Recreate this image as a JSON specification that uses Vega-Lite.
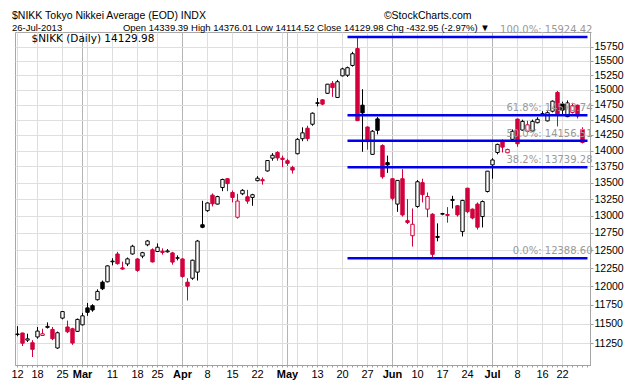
{
  "$schema": "https://vega.github.io/schema/vega-lite/v6.json",
  "width": 575,
  "height": 333,
  "autosize": {"type": "none"},
  "padding": {"left": 15, "top": 32, "right": 50, "bottom": 20},
  "background": "white",
  "config": {
    "font": "Liberation Sans",
    "view": {"stroke": "#a8a8a8"}
  },
  "title": {
    "text": "$NIKK Tokyo Nikkei Average (EOD) INDX\u00a0\u00a0\u00a0\u00a0\u00a0\u00a0\u00a0\u00a0\u00a0\u00a0\u00a0\u00a0\u00a0\u00a0\u00a0\u00a0\u00a0\u00a0\u00a0\u00a0\u00a0\u00a0\u00a0\u00a0\u00a0\u00a0\u00a0\u00a0\u00a0\u00a0\u00a0\u00a0\u00a0\u00a0\u00a0\u00a0\u00a0\u00a0\u00a0\u00a0\u00a0\u00a0\u00a0\u00a0\u00a0\u00a0\u00a0\u00a0\u00a0\u00a0\u00a0\u00a0\u00a0\u00a0\u00a0\u00a0\u00a0\u00a0\u00a0\u00a0\u00a0©StockCharts.com",
    "subtitle": "26-Jul-2013 \u00a0\u00a0\u00a0\u00a0\u00a0\u00a0\u00a0\u00a0\u00a0\u00a0\u00a0\u00a0\u00a0\u00a0\u00a0\u00a0\u00a0\u00a0\u00a0\u00a0\u00a0\u00a0Open 14339.39 High 14376.01 Low 14114.52 Close 14129.98 Chg -432.95 (-2.97%) ▼",
    "anchor": "start",
    "frame": "group",
    "dx": -3,
    "offset": -7.5,
    "font": "Liberation Sans",
    "fontSize": 10.5,
    "fontWeight": "normal",
    "color": "#000000",
    "subtitleFont": "Liberation Sans",
    "subtitleFontSize": 9.5,
    "subtitleColor": "#000000",
    "subtitlePadding": 2
  },
  "datasets": {
    "px": [
      {"d":"2013-02-12","o":11362,"h":11470,"l":11340,"c":11369,"k":"up"},
      {"d":"2013-02-13","o":11382,"h":11385,"l":11215,"c":11251,"k":"dn"},
      {"d":"2013-02-14","o":11290,"h":11373,"l":11266,"c":11307,"k":"up"},
      {"d":"2013-02-15","o":11257,"h":11290,"l":11076,"c":11173,"k":"dn"},
      {"d":"2013-02-18","o":11331,"h":11460,"l":11309,"c":11407,"k":"up"},
      {"d":"2013-02-19","o":11350,"h":11437,"l":11345,"c":11372,"k":"dn"},
      {"d":"2013-02-20","o":11455,"h":11520,"l":11440,"c":11468,"k":"up"},
      {"d":"2013-02-21","o":11428,"h":11460,"l":11290,"c":11309,"k":"dn"},
      {"d":"2013-02-22","o":11190,"h":11400,"l":11180,"c":11385,"k":"up"},
      {"d":"2013-02-25","o":11576,"h":11670,"l":11560,"c":11662,"k":"up"},
      {"d":"2013-02-26","o":11460,"h":11543,"l":11380,"c":11398,"k":"dn"},
      {"d":"2013-02-27","o":11437,"h":11450,"l":11230,"c":11253,"k":"dn"},
      {"d":"2013-02-28","o":11403,"h":11570,"l":11395,"c":11559,"k":"up"},
      {"d":"2013-03-01","o":11488,"h":11645,"l":11480,"c":11606,"k":"up"},
      {"d":"2013-03-04","o":11711,"h":11777,"l":11606,"c":11652,"k":"up"},
      {"d":"2013-03-05","o":11740,"h":11760,"l":11660,"c":11683,"k":"up"},
      {"d":"2013-03-06","o":11820,"h":11960,"l":11810,"c":11932,"k":"up"},
      {"d":"2013-03-07","o":12058,"h":12080,"l":11950,"c":11968,"k":"up"},
      {"d":"2013-03-08","o":12063,"h":12290,"l":12055,"c":12283,"k":"up"},
      {"d":"2013-03-11","o":12340,"h":12390,"l":12290,"c":12349,"k":"up"},
      {"d":"2013-03-12","o":12450,"h":12480,"l":12300,"c":12314,"k":"dn"},
      {"d":"2013-03-13","o":12255,"h":12343,"l":12230,"c":12239,"k":"dn"},
      {"d":"2013-03-14","o":12310,"h":12400,"l":12280,"c":12381,"k":"up"},
      {"d":"2013-03-15","o":12450,"h":12580,"l":12440,"c":12560,"k":"up"},
      {"d":"2013-03-18","o":12380,"h":12390,"l":12200,"c":12220,"k":"dn"},
      {"d":"2013-03-19","o":12420,"h":12480,"l":12390,"c":12468,"k":"up"},
      {"d":"2013-03-21","o":12580,"h":12650,"l":12560,"c":12635,"k":"up"},
      {"d":"2013-03-22","o":12510,"h":12530,"l":12330,"c":12338,"k":"dn"},
      {"d":"2013-03-25","o":12485,"h":12600,"l":12480,"c":12546,"k":"up"},
      {"d":"2013-03-26","o":12490,"h":12530,"l":12440,"c":12472,"k":"dn"},
      {"d":"2013-03-27","o":12480,"h":12520,"l":12470,"c":12493,"k":"up"},
      {"d":"2013-03-28","o":12465,"h":12480,"l":12300,"c":12336,"k":"dn"},
      {"d":"2013-03-29","o":12390,"h":12430,"l":12360,"c":12397,"k":"up"},
      {"d":"2013-04-01","o":12380,"h":12390,"l":12120,"c":12135,"k":"dn"},
      {"d":"2013-04-02","o":12058,"h":12112,"l":11810,"c":12003,"k":"dn"},
      {"d":"2013-04-03","o":12112,"h":12370,"l":12090,"c":12362,"k":"up"},
      {"d":"2013-04-04","o":12196,"h":12650,"l":12080,"c":12634,"k":"up"},
      {"d":"2013-04-05","o":12870,"h":13225,"l":12820,"c":12833,"k":"up"},
      {"d":"2013-04-08","o":13077,"h":13200,"l":13060,"c":13192,"k":"up"},
      {"d":"2013-04-09","o":13310,"h":13336,"l":13140,"c":13180,"k":"dn"},
      {"d":"2013-04-10","o":13175,"h":13300,"l":13170,"c":13288,"k":"up"},
      {"d":"2013-04-11","o":13425,"h":13560,"l":13370,"c":13549,"k":"up"},
      {"d":"2013-04-12","o":13560,"h":13570,"l":13370,"c":13485,"k":"dn"},
      {"d":"2013-04-15","o":13350,"h":13380,"l":13200,"c":13275,"k":"dn"},
      {"d":"2013-04-16","o":12980,"h":13330,"l":12960,"c":13221,"k":"dn"},
      {"d":"2013-04-17","o":13330,"h":13400,"l":13310,"c":13382,"k":"up"},
      {"d":"2013-04-18","o":13285,"h":13390,"l":13180,"c":13220,"k":"dn"},
      {"d":"2013-04-19","o":13275,"h":13330,"l":13150,"c":13316,"k":"up"},
      {"d":"2013-04-22","o":13530,"h":13600,"l":13520,"c":13568,"k":"up"},
      {"d":"2013-04-23","o":13545,"h":13580,"l":13470,"c":13529,"k":"dn"},
      {"d":"2013-04-24","o":13680,"h":13850,"l":13670,"c":13843,"k":"up"},
      {"d":"2013-04-25","o":13880,"h":13960,"l":13840,"c":13926,"k":"up"},
      {"d":"2013-04-26","o":13970,"h":13990,"l":13840,"c":13884,"k":"dn"},
      {"d":"2013-04-30","o":13880,"h":13920,"l":13740,"c":13860,"k":"dn"},
      {"d":"2013-05-01","o":13840,"h":13870,"l":13760,"c":13799,"k":"dn"},
      {"d":"2013-05-02","o":13735,"h":13760,"l":13640,"c":13694,"k":"dn"},
      {"d":"2013-05-07","o":13950,"h":14200,"l":13940,"c":14180,"k":"up"},
      {"d":"2013-05-08","o":14190,"h":14375,"l":14150,"c":14285,"k":"up"},
      {"d":"2013-05-09","o":14360,"h":14400,"l":14150,"c":14191,"k":"dn"},
      {"d":"2013-05-10","o":14425,"h":14620,"l":14400,"c":14607,"k":"up"},
      {"d":"2013-05-13","o":14770,"h":14860,"l":14720,"c":14782,"k":"up"},
      {"d":"2013-05-14","o":14830,"h":14840,"l":14740,"c":14758,"k":"dn"},
      {"d":"2013-05-15","o":14940,"h":15100,"l":14930,"c":15096,"k":"up"},
      {"d":"2013-05-16","o":15110,"h":15150,"l":14880,"c":15037,"k":"dn"},
      {"d":"2013-05-17","o":14870,"h":15170,"l":14860,"c":15138,"k":"up"},
      {"d":"2013-05-20","o":15240,"h":15380,"l":15230,"c":15360,"k":"up"},
      {"d":"2013-05-21","o":15250,"h":15400,"l":15220,"c":15381,"k":"up"},
      {"d":"2013-05-22","o":15420,"h":15660,"l":15400,"c":15627,"k":"up"},
      {"d":"2013-05-23","o":15719,"h":15924.42,"l":14480,"c":14484,"k":"dn"},
      {"d":"2013-05-24","o":14740,"h":15010,"l":13981,"c":14612,"k":"up"},
      {"d":"2013-05-27","o":14380,"h":14390,"l":14015,"c":14143,"k":"dn"},
      {"d":"2013-05-28","o":13940,"h":14330,"l":13930,"c":14311,"k":"up"},
      {"d":"2013-05-29","o":14513,"h":14545,"l":14260,"c":14326,"k":"up"},
      {"d":"2013-05-30","o":14080,"h":14100,"l":13560,"c":13589,"k":"dn"},
      {"d":"2013-05-31","o":13810,"h":13920,"l":13650,"c":13775,"k":"up"},
      {"d":"2013-06-03","o":13560,"h":13570,"l":13230,"c":13262,"k":"dn"},
      {"d":"2013-06-04","o":13175,"h":13540,"l":13060,"c":13534,"k":"up"},
      {"d":"2013-06-05","o":13560,"h":13708,"l":12990,"c":13014,"k":"dn"},
      {"d":"2013-06-06","o":12930,"h":13250,"l":12880,"c":12904,"k":"dn"},
      {"d":"2013-06-07","o":12710,"h":13110,"l":12555,"c":12877,"k":"dn"},
      {"d":"2013-06-10","o":13140,"h":13540,"l":13120,"c":13514,"k":"up"},
      {"d":"2013-06-11","o":13500,"h":13560,"l":13200,"c":13317,"k":"dn"},
      {"d":"2013-06-12","o":13100,"h":13350,"l":12980,"c":13289,"k":"dn"},
      {"d":"2013-06-13","o":13025,"h":13040,"l":12388.6,"c":12445,"k":"dn"},
      {"d":"2013-06-14","o":12700,"h":12890,"l":12630,"c":12686,"k":"up"},
      {"d":"2013-06-17","o":13025,"h":13045,"l":13010,"c":13034,"k":"up"},
      {"d":"2013-06-18","o":13020,"h":13130,"l":12900,"c":13007,"k":"dn"},
      {"d":"2013-06-19","o":13230,"h":13300,"l":13110,"c":13245,"k":"up"},
      {"d":"2013-06-20","o":13150,"h":13160,"l":12990,"c":13015,"k":"dn"},
      {"d":"2013-06-21","o":12770,"h":13240,"l":12700,"c":13230,"k":"up"},
      {"d":"2013-06-24","o":13415,"h":13420,"l":13040,"c":13062,"k":"dn"},
      {"d":"2013-06-25","o":13100,"h":13110,"l":12950,"c":12969,"k":"dn"},
      {"d":"2013-06-26","o":13175,"h":13200,"l":12800,"c":12834,"k":"dn"},
      {"d":"2013-06-27","o":12990,"h":13230,"l":12830,"c":13213,"k":"up"},
      {"d":"2013-06-28","o":13365,"h":13680,"l":13350,"c":13677,"k":"up"},
      {"d":"2013-07-01","o":13775,"h":13880,"l":13560,"c":13852,"k":"up"},
      {"d":"2013-07-02","o":13970,"h":14110,"l":13940,"c":14099,"k":"up"},
      {"d":"2013-07-03","o":14140,"h":14180,"l":13970,"c":14055,"k":"dn"},
      {"d":"2013-07-04","o":13965,"h":14030,"l":13960,"c":14018,"k":"dn"},
      {"d":"2013-07-05","o":14180,"h":14340,"l":14150,"c":14310,"k":"up"},
      {"d":"2013-07-08","o":14510,"h":14520,"l":14060,"c":14109,"k":"dn"},
      {"d":"2013-07-09","o":14330,"h":14500,"l":14320,"c":14472,"k":"up"},
      {"d":"2013-07-10","o":14310,"h":14480,"l":14290,"c":14416,"k":"dn"},
      {"d":"2013-07-11","o":14315,"h":14500,"l":14300,"c":14472,"k":"up"},
      {"d":"2013-07-12","o":14450,"h":14540,"l":14440,"c":14506,"k":"up"},
      {"d":"2013-07-16","o":14590,"h":14640,"l":14560,"c":14599,"k":"up"},
      {"d":"2013-07-17","o":14480,"h":14640,"l":14470,"c":14615,"k":"up"},
      {"d":"2013-07-18","o":14640,"h":14820,"l":14620,"c":14808,"k":"up"},
      {"d":"2013-07-19","o":14955,"h":14980,"l":14390,"c":14589,"k":"dn"},
      {"d":"2013-07-22","o":14760,"h":14800,"l":14580,"c":14658,"k":"up"},
      {"d":"2013-07-23","o":14550,"h":14820,"l":14540,"c":14778,"k":"up"},
      {"d":"2013-07-24","o":14620,"h":14780,"l":14600,"c":14731,"k":"dn"},
      {"d":"2013-07-25","o":14740,"h":14750,"l":14520,"c":14562,"k":"dn"},
      {"d":"2013-07-26","o":14339.39,"h":14376.01,"l":14114.52,"c":14129.98,"k":"dn"}
    ],
    "fib": [
      {"v":15924.42,"t":"100.0%: 15924.42"},
      {"v":14573.74,"t":"61.8%: 14573.74"},
      {"v":14156.51,"t":"50.0%: 14156.51"},
      {"v":13739.28,"t":"38.2%: 13739.28"},
      {"v":12388.60,"t":"0.0%: 12388.60"}
    ]
  },
  "layer": [
    {
      "data": {"name": "px"},
      "mark": {"type": "rule", "strokeWidth": 1},
      "encoding": {
        "x": {
          "field": "d",
          "type": "ordinal",
          "scale": {
            "type": "band",
            "paddingInner": 0,
            "paddingOuter": 0,
            "domain": ["2013-02-12","2013-02-13","2013-02-14","2013-02-15","2013-02-18","2013-02-19","2013-02-20","2013-02-21","2013-02-22","2013-02-25","2013-02-26","2013-02-27","2013-02-28","2013-03-01","2013-03-04","2013-03-05","2013-03-06","2013-03-07","2013-03-08","2013-03-11","2013-03-12","2013-03-13","2013-03-14","2013-03-15","2013-03-18","2013-03-19","2013-03-21","2013-03-22","2013-03-25","2013-03-26","2013-03-27","2013-03-28","2013-03-29","2013-04-01","2013-04-02","2013-04-03","2013-04-04","2013-04-05","2013-04-08","2013-04-09","2013-04-10","2013-04-11","2013-04-12","2013-04-15","2013-04-16","2013-04-17","2013-04-18","2013-04-19","2013-04-22","2013-04-23","2013-04-24","2013-04-25","2013-04-26","2013-04-30","2013-05-01","2013-05-02","2013-05-07","2013-05-08","2013-05-09","2013-05-10","2013-05-13","2013-05-14","2013-05-15","2013-05-16","2013-05-17","2013-05-20","2013-05-21","2013-05-22","2013-05-23","2013-05-24","2013-05-27","2013-05-28","2013-05-29","2013-05-30","2013-05-31","2013-06-03","2013-06-04","2013-06-05","2013-06-06","2013-06-07","2013-06-10","2013-06-11","2013-06-12","2013-06-13","2013-06-14","2013-06-17","2013-06-18","2013-06-19","2013-06-20","2013-06-21","2013-06-24","2013-06-25","2013-06-26","2013-06-27","2013-06-28","2013-07-01","2013-07-02","2013-07-03","2013-07-04","2013-07-05","2013-07-08","2013-07-09","2013-07-10","2013-07-11","2013-07-12","2013-07-16","2013-07-17","2013-07-18","2013-07-19","2013-07-22","2013-07-23","2013-07-24","2013-07-25","2013-07-26","2013-07-29"]
          },
          "axis": {
            "orient": "bottom",
            "title": null,
            "labelAngle": 0,
            "labelOverlap": false,
            "labelExpr": "indexof(['2013-02-12','2013-02-18','2013-02-25','2013-03-01','2013-03-11','2013-03-18','2013-03-25','2013-04-01','2013-04-08','2013-04-15','2013-04-22','2013-05-01','2013-05-13','2013-05-20','2013-05-27','2013-06-03','2013-06-10','2013-06-17','2013-06-24','2013-07-01','2013-07-08','2013-07-16','2013-07-22'], datum.value) < 0 ? '' : (indexof(['2013-03-01','2013-04-01','2013-05-01','2013-06-03','2013-07-01'], datum.value) >= 0 ? ['Jan','Feb','Mar','Apr','May','Jun','Jul','Aug'][toNumber(substring(datum.value, 5, 7)) - 1] : '' + toNumber(substring(datum.value, 8, 10)))",
            "labelFont": "Liberation Sans",
            "labelFontSize": 11,
            "labelColor": "#000000",
            "labelFontWeight": {"condition": {"test": "indexof(['2013-03-01','2013-04-01','2013-05-01','2013-06-03','2013-07-01'], datum.value) >= 0", "value": "bold"}, "value": "normal"},
            "labelPadding": 1,
            "ticks": true,
            "tickSize": 2,
            "tickColor": "#a0a0a0",
            "domainColor": "#a0a0a0",
            "grid": true,
            "gridColor": {"condition": {"test": "indexof(['2013-03-01','2013-04-01','2013-05-01','2013-06-03','2013-07-01'], datum.value) >= 0", "value": "#b4b4b4"}, "value": "#dedede"},
            "gridOpacity": {"condition": {"test": "indexof(['2013-02-12','2013-02-18','2013-02-25','2013-03-01','2013-03-04','2013-03-11','2013-03-18','2013-03-25','2013-04-01','2013-04-08','2013-04-15','2013-04-22','2013-04-30','2013-05-01','2013-05-07','2013-05-13','2013-05-20','2013-05-27','2013-06-03','2013-06-10','2013-06-17','2013-06-24','2013-07-01','2013-07-08','2013-07-16','2013-07-22'], datum.value) >= 0", "value": 1}, "value": 0}
          }
        },
        "y": {
          "field": "l",
          "type": "quantitative",
          "scale": {"type": "log", "domain": [10976, 16017], "nice": false, "zero": false},
          "axis": {
            "orient": "right",
            "title": null,
            "values": [11250,11500,11750,12000,12250,12500,12750,13000,13250,13500,13750,14000,14250,14500,14750,15000,15250,15500,15750],
            "format": "d",
            "labelFont": "Liberation Sans",
            "labelFontSize": 10.5,
            "labelColor": "#000000",
            "labelPadding": 1,
            "tickSize": 3,
            "tickColor": "#a0a0a0",
            "domainColor": "#a0a0a0",
            "domainDash": [1, 2],
            "grid": true,
            "gridColor": "#dedede"
          }
        },
        "y2": {"field": "h"},
        "color": {
          "field": "k",
          "type": "nominal",
          "scale": {"domain": ["up", "dn"], "range": ["#000000", "#d2003c"]},
          "legend": null
        }
      }
    },
    {
      "data": {"name": "px"},
      "mark": {"type": "bar", "size": 3.4, "strokeWidth": 1},
      "encoding": {
        "x": {"field": "d", "type": "ordinal"},
        "y": {"field": "o", "type": "quantitative"},
        "y2": {"field": "c"},
        "stroke": {
          "field": "k",
          "type": "nominal",
          "scale": {"domain": ["up", "dn"], "range": ["#000000", "#d2003c"]},
          "legend": null
        },
        "fill": {
          "condition": {"test": "datum.c > datum.o", "value": "#ffffff"},
          "field": "k",
          "type": "nominal",
          "scale": {"domain": ["up", "dn"], "range": ["#000000", "#d2003c"]},
          "legend": null
        }
      }
    },
    {
      "data": {"name": "fib"},
      "mark": {"type": "rule", "color": "#0000ee", "strokeWidth": 2.5},
      "encoding": {
        "x": {"datum": "2013-05-21", "type": "ordinal"},
        "x2": {"datum": "2013-07-29"},
        "y": {"field": "v", "type": "quantitative"}
      }
    },
    {
      "data": {"name": "fib"},
      "mark": {"type": "text", "align": "right", "baseline": "middle", "dx": 5, "dy": -7, "font": "DejaVu Sans", "fontSize": 10, "color": "#9a9a9a"},
      "encoding": {
        "x": {"datum": "2013-07-29", "type": "ordinal"},
        "y": {"field": "v", "type": "quantitative"},
        "text": {"field": "t"}
      }
    },
    {
      "data": {"values": [{"t": "$NIKK (Daily) 14129.98"}]},
      "mark": {"type": "text", "align": "left", "baseline": "middle", "dx": 14, "dy": 1, "font": "DejaVu Sans", "fontSize": 10.5, "color": "#000000"},
      "encoding": {
        "x": {"datum": "2013-02-12", "type": "ordinal"},
        "y": {"datum": 15900, "type": "quantitative"},
        "text": {"field": "t"}
      }
    }
  ]
}
